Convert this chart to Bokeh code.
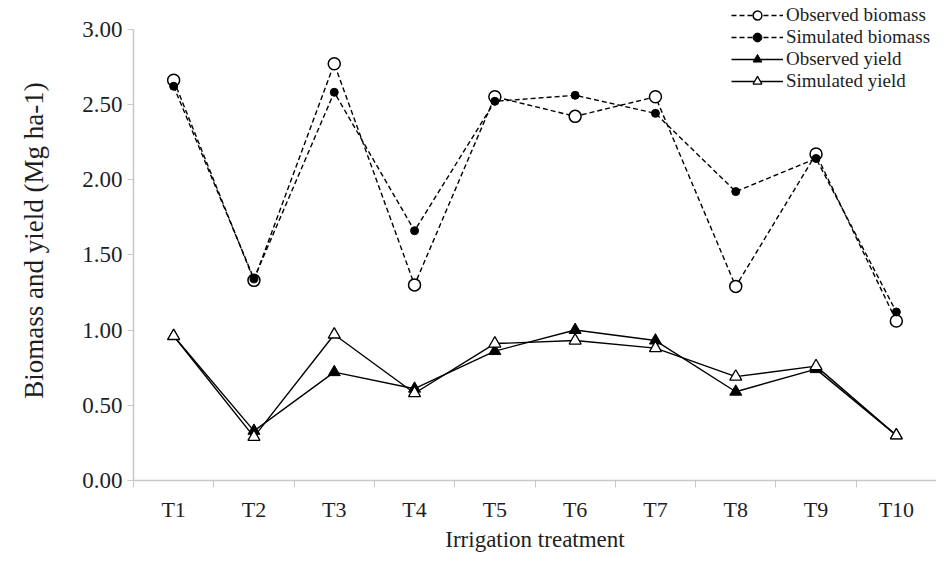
from bokeh.plotting import figure
from bokeh.models import FixedTicker, Legend
from bokeh.embed import file_html
from bokeh.resources import INLINE

categories = ["T1", "T2", "T3", "T4", "T5", "T6", "T7", "T8", "T9", "T10"]
observed_biomass = [2.66, 1.33, 2.77, 1.30, 2.55, 2.42, 2.55, 1.29, 2.17, 1.06]
simulated_biomass = [2.62, 1.34, 2.58, 1.66, 2.52, 2.56, 2.44, 1.92, 2.14, 1.12]
observed_yield = [0.96, 0.33, 0.72, 0.61, 0.86, 1.00, 0.93, 0.59, 0.74, 0.30]
simulated_yield = [0.96, 0.29, 0.97, 0.58, 0.91, 0.93, 0.88, 0.69, 0.76, 0.30]
y_ticks = [0.0, 0.5, 1.0, 1.5, 2.0, 2.5, 3.0]

x = list(range(1, len(categories) + 1))
FONT = "Liberation Serif"
AXIS_GRAY = "#c8c8c8"
TEXT = "#1e1e1e"

p = figure(width=936, height=554, x_range=(0.5, len(categories) + 0.5), y_range=(0, 3.19),
           output_backend="svg", toolbar_location=None,
           min_border_left=133, min_border_right=0, min_border_top=0, min_border_bottom=66)
p.outline_line_color = None
p.xgrid.visible = False
p.ygrid.visible = False
p.background_fill_color = "white"
p.border_fill_color = "white"

# x axis
xa = p.xaxis[0]
xa.ticker = FixedTicker(ticks=x, minor_ticks=[i + 0.5 for i in range(0, len(categories) + 1)])
xa.major_label_overrides = {i: c for i, c in zip(x, categories)}
xa.major_tick_line_color = None
xa.major_tick_out = 0
xa.major_tick_in = 0
xa.minor_tick_line_color = AXIS_GRAY
xa.minor_tick_out = 7
xa.minor_tick_in = 0
xa.axis_line_color = AXIS_GRAY
xa.axis_line_width = 1.5
xa.major_label_text_font = FONT
xa.major_label_text_font_size = "22px"
xa.major_label_text_color = TEXT
xa.major_label_standoff = 9
xa.axis_label = "Irrigation treatment"
xa.axis_label_text_font = FONT
xa.axis_label_text_font_size = "23px"
xa.axis_label_text_font_style = "normal"
xa.axis_label_text_color = TEXT
xa.axis_label_standoff = 2

# y axis
ya = p.yaxis[0]
ya.ticker = FixedTicker(ticks=y_ticks, minor_ticks=[])
ya.bounds = (y_ticks[0], y_ticks[-1])
ya.major_label_overrides = {t: f"{t:.2f}" for t in y_ticks}
ya.major_tick_line_color = AXIS_GRAY
ya.major_tick_out = 6
ya.major_tick_in = 0
ya.axis_line_color = AXIS_GRAY
ya.axis_line_width = 1.5
ya.major_label_text_font = FONT
ya.major_label_text_font_size = "23px"
ya.major_label_text_color = TEXT
ya.major_label_standoff = 5
ya.axis_label = "Biomass and yield (Mg ha-1)"
ya.axis_label_text_font = FONT
ya.axis_label_text_font_size = "27px"
ya.axis_label_text_font_style = "normal"
ya.axis_label_text_color = TEXT
ya.axis_label_standoff = 30

# Observed biomass
l1 = p.line(x, observed_biomass, line_color="black", line_width=1.4, line_dash="5 3")
s1 = p.scatter(x, observed_biomass, marker="circle", size=12, fill_color="white",
               line_color="black", line_width=1.5)
# Simulated biomass
l2 = p.line(x, simulated_biomass, line_color="black", line_width=1.4, line_dash="5 3")
s2 = p.scatter(x, simulated_biomass, marker="circle", size=8, fill_color="black",
               line_color="black")
# Observed yield
l3 = p.line(x, observed_yield, line_color="black", line_width=1.4)
s3 = p.scatter(x, observed_yield, marker="triangle", size=12, fill_color="black",
               line_color="black")
# Simulated yield
l4 = p.line(x, simulated_yield, line_color="black", line_width=1.4)
s4 = p.scatter(x, simulated_yield, marker="triangle", size=12, fill_color="white",
               line_color="black", line_width=1.3)

legend = Legend(items=[("Observed biomass", [l1, s1]),
                       ("Simulated biomass", [l2, s2]),
                       ("Observed yield", [l3, s3]),
                       ("Simulated yield", [l4, s4])],
                location=(598, 388))
legend.label_text_font = FONT
legend.label_text_font_size = "19px"
legend.label_text_color = TEXT
legend.glyph_width = 52
legend.glyph_height = 22
legend.label_height = 22
legend.label_standoff = 3
legend.spacing = 0
legend.padding = 0
legend.margin = 0
legend.border_line_color = None
legend.background_fill_alpha = 0
p.add_layout(legend, "center")

open("out.html", "w").write(file_html(p, INLINE))
